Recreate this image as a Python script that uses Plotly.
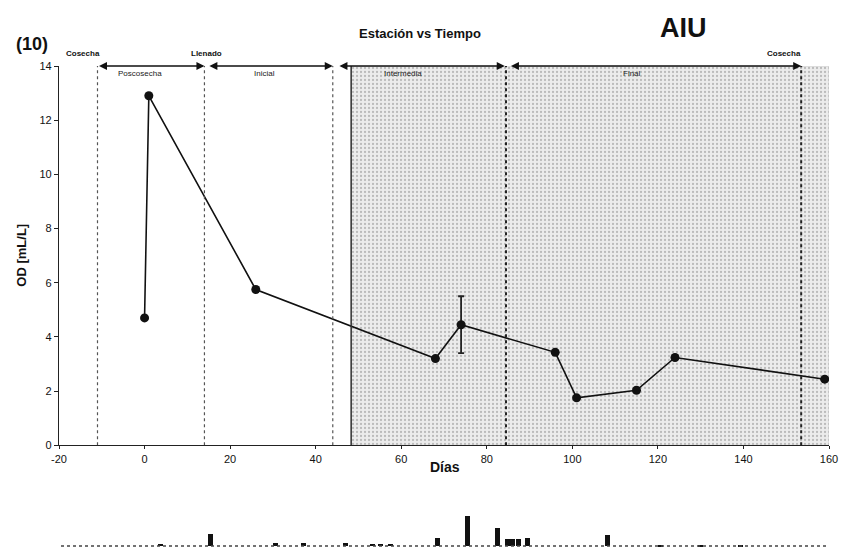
import plotly.graph_objects as go

# ---- data ----
dias = [0, 1, 26, 68, 74, 96, 101, 115, 124, 159]
od = [4.7, 12.9, 5.75, 3.2, 4.45, 3.43, 1.75, 2.03, 3.24, 2.44]
od_err = [None, None, None, None, 1.05, None, None, None, None, None]

x_ticks = [-20, 0, 20, 40, 60, 80, 100, 120, 140, 160]
x_tick_labels = ["-20", "0", "20", "40", "60", "80", "100", "120", "140", "160"]
y_ticks = [0, 2, 4, 6, 8, 10, 12, 14]

# phase boundaries (days)
dotted_light = [-11, 14, 44]
dotted_dark = [84.5, 153.5]
shade_start, shade_end = 48.3, 160

phase_names = ["Poscosecha", "Inicial", "Intermedia", "Final"]
phase_start = [-11, 14.8, 45.2, 85.3]
phase_end = [14.0, 44.0, 84.2, 153.5]
phase_label_x = [-1, 28, 60.5, 114]

event_names = ["Cosecha", "Llenado", "Cosecha"]
event_x = [-14.5, 14.5, 149.5]

# scan artifact strip (pixel-like units)
art_x = [160, 210, 275, 303, 345, 372, 380, 390, 437, 467, 497, 507, 512, 518, 527, 607, 660, 700, 740]
art_h = [3, 13, 4, 4, 4, 3, 3, 3, 9, 31, 19, 8, 8, 8, 9, 12, 2, 2, 2]

FONT = "Liberation Sans"

W, H = 844, 553
ML, MR, MT, MB = 59, 15, 66, 0
pw, ph = W - ML - MR, H - MT - MB


def px(x, y):
    return (x - ML) / pw, 1 - (y - MT) / ph


fig = go.Figure()

# shaded region (stippled)
fig.add_trace(go.Scatter(
    x=[shade_start, shade_end, shade_end, shade_start, shade_start],
    y=[0, 0, 14, 14, 0], mode="lines", fill="toself",
    line=dict(color="#cfcfcf", width=1),
    fillcolor="#e4e4e4",
    fillpattern=dict(shape=".", fgcolor="#8a8a8a", bgcolor="#ececec", size=4, solidity=0.25),
    hoverinfo="skip", showlegend=False))

# main series
fig.add_trace(go.Scatter(
    x=dias, y=od, mode="lines+markers",
    line=dict(color="#111", width=1.6),
    marker=dict(color="#111", size=9),
    error_y=dict(type="data", array=od_err, visible=True, color="#222", thickness=1.8, width=3),
    showlegend=False))

# artifact strip
fig.add_trace(go.Bar(x=art_x, y=art_h, width=5, marker=dict(color="#111", line=dict(width=0)),
                     xaxis="x2", yaxis="y2", showlegend=False, hoverinfo="skip"))

shapes = []
for xv in dotted_light:
    shapes.append(dict(type="line", xref="x", yref="y", x0=xv, x1=xv, y0=0, y1=14,
                       line=dict(color="#555", width=1.2, dash="dot")))
for xv in dotted_dark:
    shapes.append(dict(type="line", xref="x", yref="y", x0=xv, x1=xv, y0=0, y1=14,
                       line=dict(color="#222", width=2, dash="dot")))
shapes.append(dict(type="line", xref="x", yref="y", x0=shade_start, x1=shade_start, y0=0, y1=14,
                   line=dict(color="#333", width=1.5)))
# artifact baseline
shapes.append(dict(type="line", xref="x2", yref="y2", x0=55, x1=830, y0=0, y1=0,
                   line=dict(color="#444", width=1.5, dash="dot")))

ann = []
for s, e in zip(phase_start, phase_end):
    ann.append(dict(x=e, y=14, ax=s, ay=14, xref="x", yref="y", axref="x", ayref="y",
                    showarrow=True, arrowhead=2, arrowside="end+start", arrowsize=1,
                    arrowwidth=1.6, arrowcolor="#111", text=""))
for name, lx in zip(phase_names, phase_label_x):
    ann.append(dict(x=lx, y=13.72, xref="x", yref="y", text=name, showarrow=False,
                    font=dict(family=FONT, size=8, color="#222")))
y_evt = 1 - (53 - MT) / ph
for name, ex in zip(event_names, event_x):
    ann.append(dict(x=ex, y=y_evt, xref="x", yref="paper", text="<b>%s</b>" % name, showarrow=False,
                    xanchor="center", yanchor="middle",
                    font=dict(family=FONT, size=8, color="#111")))

paper_texts = [
    (420, 33, "<b>Estación vs Tiempo</b>", 13, 0),
    (683, 28, "<b>AIU</b>", 27, 0),
    (32, 44, "<b>(10)</b>", 18, 0),
    (22, 258, "<b>OD [mL/L]</b>", 13, -90),
    (445, 472, "<b>Días</b>", 14, 0),
]
for x, y, t, s, ang in paper_texts:
    X, Y = px(x, y)
    ann.append(dict(x=X, y=Y, xref="paper", yref="paper", text=t, showarrow=False,
                    textangle=ang, xanchor="center", yanchor="middle",
                    font=dict(family=FONT, size=s, color="#111")))

y_dom0 = (H - 450) / ph

fig.update_layout(
    width=W, height=H, margin=dict(l=ML, r=MR, t=MT, b=MB),
    paper_bgcolor="white", plot_bgcolor="white",
    font=dict(family=FONT, color="#111"),
    shapes=shapes, annotations=ann,
    xaxis=dict(range=[-20, 160], tickvals=x_ticks, ticktext=x_tick_labels, showgrid=False, zeroline=False,
               showline=True, linecolor="#222", linewidth=1.2, ticks="outside", ticklen=3,
               tickcolor="#222", tickfont=dict(size=11, family=FONT, color="#111"),
               anchor="y", domain=[0, 1]),
    yaxis=dict(range=[0, 14], tickvals=y_ticks, showgrid=False, zeroline=False,
               showline=True, linecolor="#222", linewidth=1.2, ticks="outside", ticklen=4,
               tickcolor="#222", tickfont=dict(size=11, family=FONT, color="#111"),
               domain=[y_dom0, 1]),
    xaxis2=dict(range=[ML, W - MR], visible=False, anchor="y2", domain=[0, 1]),
    yaxis2=dict(range=[-1, 38], visible=False, domain=[0, 0.08]),
    bargap=0,
)

fig.write_html("out.html")
